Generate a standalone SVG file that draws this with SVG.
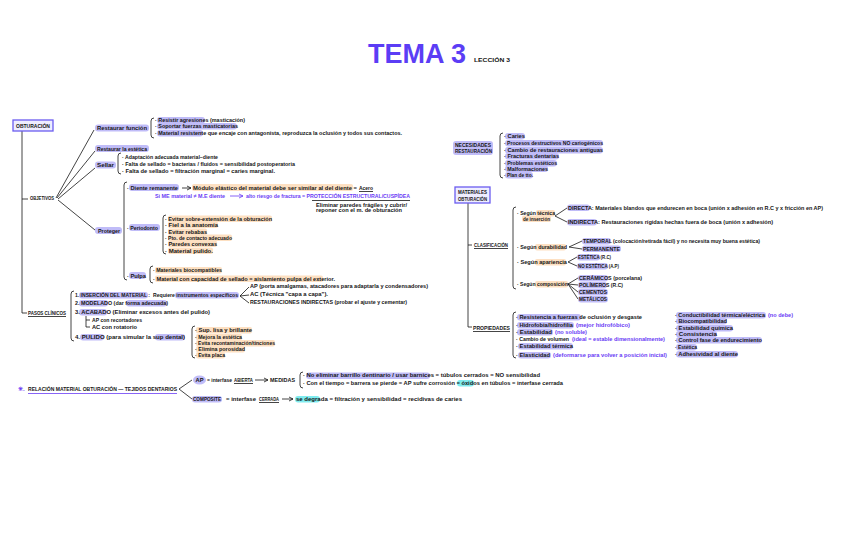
<svg xmlns="http://www.w3.org/2000/svg" width="848" height="549" viewBox="0 0 848 549">
<style>
text{font-family:"Liberation Sans",Arial,sans-serif;font-size:5.8px;font-weight:bold;fill:#151515}
.p{fill:#6a3cf5}
.hp{fill:#c0bcf8}
.ho{fill:#fde0c2}
.hc{fill:#80ecef}
.ln{stroke:#151515;stroke-width:0.8;fill:none}
.lp{stroke:#6a3cf5;stroke-width:0.8;fill:none}
.box{fill:#eeedff;stroke:#6b5cf0;stroke-width:1.3}
</style>
<rect width="848" height="549" fill="#fff"/>
<text x="368" y="63" style="font-size:27px;font-weight:bold;fill:#5b3df5">TEMA 3</text>
<text x="474" y="62" textLength="36" lengthAdjust="spacingAndGlyphs" style="font-size:5.5px">LECCIÓN 3</text>

<g id="connectors">
<path class="ln" d="M22 131V313H27M22 199H28"/>
<path class="ln" d="M56 198L94 130M57 198L95 151M58 199L95 168M58 200L95 230"/>
<path class="ln" d="M182 188H191M187 186L191 188L187 190"/>
<path class="lp" d="M230 196H243M239 194L243 196L239 198"/>
<path class="ln" d="M312 200.5H410"/>
<path class="ln" d="M240 296L249 287M240 296L249 295M240 296L249 303"/>
<path class="ln" d="M86 316V327H90M86 320H90"/>
<path class="ln" d="M468 203V327H472M468 245H472"/>
<path class="ln" d="M555 216L567 208M555 216L567 222"/>
<path class="ln" d="M569 247L582 241M569 247L582 249"/>
<path class="ln" d="M568 262L577 257M568 262L577 266"/>
<path class="ln" d="M568 284L578 278M568 284L578 285M568 284L578 292M568 284L578 299"/>
<path class="ln" d="M179 389L192 380M179 389L192 399"/>
<path class="ln" d="M255 380H268M264 378L268 380L264 382"/>
<path class="ln" d="M282 399H293M289 397L293 399L289 401"/>
</g>

<g id="obturacion">
<rect class="box" x="13" y="120" width="40" height="11"/>
<text x="16" y="127.5" textLength="34" lengthAdjust="spacingAndGlyphs" style="font-size:5px">OBTURACIÓN</text>
</g>
<g id="objetivos"><text x="30" y="200" textLength="24" lengthAdjust="spacingAndGlyphs">OBJETIVOS</text></g>

<g id="restaurar-funcion">
<rect class="hp" x="95" y="124.5" width="54" height="7" rx="3"/>
<text x="97" y="130" textLength="50" lengthAdjust="spacingAndGlyphs">Restaurar función</text>
<path class="ln" d="M154 118Q151 118 151 121V135Q151 138 154 138"/>
<rect class="hp" x="157" y="117" width="48" height="6.5" rx="3"/>
<rect class="hp" x="157" y="123" width="80" height="6.5" rx="3"/>
<rect class="hp" x="157" y="130" width="46" height="6.5" rx="3"/>
<text x="155" y="122" textLength="90" lengthAdjust="spacingAndGlyphs">· Resistir agresiones (masticación)</text>
<text x="155" y="128" textLength="83" lengthAdjust="spacingAndGlyphs">· Soportar fuerzas masticatorias</text>
<text x="155" y="135" textLength="247" lengthAdjust="spacingAndGlyphs">· Material resistente que encaje con antagonista, reproduzca la oclusión y todos sus contactos.</text>
</g>

<g id="restaurar-estetica">
<rect class="hp" x="95" y="145" width="54" height="7" rx="3"/>
<text x="97" y="151" textLength="50" lengthAdjust="spacingAndGlyphs">Restaurar la estética</text>
</g>

<g id="sellar">
<rect class="hp" x="95" y="161.5" width="21" height="7" rx="3"/>
<text x="97" y="167" textLength="17" lengthAdjust="spacingAndGlyphs">Sellar</text>
<path class="ln" d="M121 153Q118 153 118 156V171Q118 174 121 174"/>
<text x="122" y="159" textLength="96" lengthAdjust="spacingAndGlyphs">· Adaptación adecuada material–diente</text>
<text x="122" y="165.5" textLength="173" lengthAdjust="spacingAndGlyphs">· Falta de sellado = bacterias / fluidos = sensibilidad postoperatoria</text>
<text x="122" y="173" textLength="153" lengthAdjust="spacingAndGlyphs">· Falta de sellado = filtración marginal = caries marginal.</text>
</g>

<g id="proteger">
<rect class="hp" x="95" y="227" width="27" height="7" rx="3"/>
<text x="98" y="232.5" textLength="22" lengthAdjust="spacingAndGlyphs">Proteger</text>
<path class="ln" d="M127 182Q124 182 124 185V277Q124 280 127 280"/>
<rect class="hp" x="129" y="184" width="50" height="7" rx="3"/>
<text x="127" y="190" textLength="51" lengthAdjust="spacingAndGlyphs">· Diente remanente</text>
<rect class="ho" x="192" y="184" width="161" height="7" rx="2"/>
<text x="193" y="190" textLength="164" lengthAdjust="spacingAndGlyphs">Módulo elástico del material debe ser similar al del diente =</text>
<text x="359" y="190" textLength="14" lengthAdjust="spacingAndGlyphs">Acero</text>
<path class="ln" d="M359 191.5H373"/>
<text x="155" y="198" class="p" textLength="70" lengthAdjust="spacingAndGlyphs">Si ME material ≠ M.E diente</text>
<text x="246" y="198" class="p" textLength="164" lengthAdjust="spacingAndGlyphs">alto riesgo de fractura = PROTECCIÓN ESTRUCTURAL/CUSPÍDEA</text>
<text x="316" y="206.5" textLength="91" lengthAdjust="spacingAndGlyphs">Eliminar paredes frágiles y cubrir/</text>
<text x="316" y="212" textLength="86" lengthAdjust="spacingAndGlyphs">reponer con el m. de obturación</text>

<rect class="hp" x="129" y="224" width="31" height="7" rx="3"/>
<text x="127" y="230" textLength="31" lengthAdjust="spacingAndGlyphs">· Periodonto</text>
<path class="ln" d="M166 215Q163 215 163 218V251Q163 254 166 254"/>
<rect class="ho" x="168" y="215.5" width="104" height="6.5" rx="2"/>
<rect class="ho" x="168" y="221.5" width="50" height="6.5" rx="2"/>
<rect class="ho" x="168" y="228.5" width="39" height="6.5" rx="2"/>
<rect class="ho" x="168" y="234.5" width="64" height="6.5" rx="2"/>
<rect class="ho" x="168" y="240.5" width="49" height="6.5" rx="2"/>
<rect class="ho" x="168" y="247.5" width="45" height="6.5" rx="2"/>
<text x="165" y="221" textLength="107" lengthAdjust="spacingAndGlyphs">· Evitar sobre-extensión de la obturación</text>
<text x="165" y="227" textLength="53" lengthAdjust="spacingAndGlyphs">· Fiel a la anatomía</text>
<text x="165" y="234" textLength="42" lengthAdjust="spacingAndGlyphs">· Evitar rebabas</text>
<text x="165" y="240" textLength="67" lengthAdjust="spacingAndGlyphs">· Pto. de contacto adecuado</text>
<text x="165" y="246" textLength="52" lengthAdjust="spacingAndGlyphs">· Paredes convexas</text>
<text x="165" y="253" textLength="48" lengthAdjust="spacingAndGlyphs">· Material pulido.</text>

<rect class="hp" x="129" y="272" width="17" height="7" rx="3"/>
<text x="127" y="278" textLength="19" lengthAdjust="spacingAndGlyphs">· Pulpa</text>
<path class="ln" d="M153 266Q150 266 150 269V280Q150 283 153 283"/>
<rect class="ho" x="155" y="267" width="67" height="6.5" rx="2"/>
<rect class="ho" x="155" y="275.5" width="168" height="6.5" rx="2"/>
<text x="153" y="272" textLength="69" lengthAdjust="spacingAndGlyphs">· Materiales biocompatibles</text>
<text x="153" y="280.5" textLength="182" lengthAdjust="spacingAndGlyphs">· Material con capacidad de sellado = aislamiento pulpa del exterior.</text>
</g>

<g id="pasos-clinicos">
<text x="28" y="315" textLength="38" lengthAdjust="spacingAndGlyphs">PASOS CLÍNICOS</text>
<path class="ln" d="M28 316.5H66"/>
<path class="ln" d="M74 291Q71 291 71 294V338Q71 341 74 341"/>
<rect class="hp" x="79" y="292" width="69" height="6.5" rx="3"/>
<rect class="hp" x="175" y="292" width="64" height="6.5" rx="3"/>
<text x="75" y="297" textLength="75" lengthAdjust="spacingAndGlyphs" style="font-size:4.5px">1. INSERCIÓN DEL MATERIAL :</text>
<text x="153" y="297" textLength="85" lengthAdjust="spacingAndGlyphs" style="font-size:5.2px">Requiere instrumentos específicos</text>
<text x="250" y="288" textLength="178" lengthAdjust="spacingAndGlyphs">AP (porta amalgamas, atacadores para adaptarla y condensadores)</text>
<text x="250" y="296" textLength="78" lengthAdjust="spacingAndGlyphs">AC (Técnica "capa a capa").</text>
<text x="250" y="304" textLength="157" lengthAdjust="spacingAndGlyphs">RESTAURACIONES INDIRECTAS (probar el ajuste y cementar)</text>
<rect class="hp" x="79" y="300" width="29" height="6.5" rx="3"/>
<rect class="hp" x="126" y="300" width="41" height="6.5" rx="3"/>
<text x="75" y="305" textLength="93" lengthAdjust="spacingAndGlyphs">2. MODELADO (dar forma adecuada)</text>
<rect class="hp" x="79" y="309" width="28" height="6.5" rx="3"/>
<text x="75" y="314" textLength="135" lengthAdjust="spacingAndGlyphs">3. ACABADO (Eliminar excesos antes del pulido)</text>
<text x="92" y="322" textLength="50" lengthAdjust="spacingAndGlyphs">AP con recortadores</text>
<text x="92" y="329" textLength="45" lengthAdjust="spacingAndGlyphs">AC con rotatorio</text>
<rect class="hp" x="80" y="334" width="24" height="6.5" rx="3"/>
<rect class="hp" x="155" y="334" width="30" height="6.5" rx="3"/>
<text x="75" y="339" textLength="110" lengthAdjust="spacingAndGlyphs">4. PULIDO (para simular la sup dental)</text>
<path class="ln" d="M195 326Q192 326 192 329V355Q192 358 195 358"/>
<rect class="ho" x="196" y="327" width="56" height="6.5" rx="2"/>
<rect class="ho" x="196" y="334" width="46" height="6.5" rx="2"/>
<rect class="ho" x="196" y="340" width="79" height="6.5" rx="2"/>
<rect class="ho" x="196" y="346" width="49" height="6.5" rx="2"/>
<rect class="ho" x="196" y="352" width="29" height="6.5" rx="2"/>
<text x="195" y="332" textLength="57" lengthAdjust="spacingAndGlyphs">· Sup. lisa y brillante</text>
<text x="195" y="339" textLength="47" lengthAdjust="spacingAndGlyphs">· Mejora la estética</text>
<text x="195" y="345" textLength="80" lengthAdjust="spacingAndGlyphs">· Evita recontaminación/tinciones</text>
<text x="195" y="351" textLength="50" lengthAdjust="spacingAndGlyphs">· Elimina porosidad</text>
<text x="195" y="357" textLength="30" lengthAdjust="spacingAndGlyphs">· Evita placa</text>
</g>

<g id="necesidades">
<rect class="hp" x="453" y="141" width="40" height="14" rx="3"/>
<text x="455" y="147" textLength="36" lengthAdjust="spacingAndGlyphs">NECESIDADES</text>
<text x="455" y="153" textLength="37" lengthAdjust="spacingAndGlyphs">RESTAURACIÓN</text>
<path class="ln" d="M503 133Q500 133 500 136V175Q500 178 503 178"/>
<rect class="hp" x="505" y="133" width="20" height="6.5" rx="3"/>
<rect class="hp" x="505" y="140" width="98" height="6.5" rx="3"/>
<rect class="hp" x="505" y="147" width="98" height="6.5" rx="3"/>
<rect class="hp" x="505" y="153" width="54" height="6.5" rx="3"/>
<rect class="hp" x="505" y="160" width="52" height="6.5" rx="3"/>
<rect class="hp" x="505" y="165.5" width="43" height="6.5" rx="3"/>
<rect class="hp" x="505" y="172" width="28" height="6.5" rx="3"/>
<text x="504" y="138" textLength="21" lengthAdjust="spacingAndGlyphs">· Caries</text>
<text x="504" y="145" textLength="99" lengthAdjust="spacingAndGlyphs">· Procesos destructivos NO cariogénicos</text>
<text x="504" y="152" textLength="99" lengthAdjust="spacingAndGlyphs">· Cambio de restauraciones antiguas</text>
<text x="504" y="158" textLength="55" lengthAdjust="spacingAndGlyphs">· Fracturas dentarias</text>
<text x="504" y="165" textLength="53" lengthAdjust="spacingAndGlyphs">· Problemas estéticos</text>
<text x="504" y="170.5" textLength="44" lengthAdjust="spacingAndGlyphs">· Malformaciones</text>
<text x="504" y="177" textLength="29" lengthAdjust="spacingAndGlyphs">· Plan de tto.</text>
</g>

<g id="materiales">
<rect class="box" x="455" y="187" width="35" height="16"/>
<text x="458" y="194" textLength="29" lengthAdjust="spacingAndGlyphs" style="font-size:5px">MATERIALES</text>
<text x="458" y="200.5" textLength="29" lengthAdjust="spacingAndGlyphs" style="font-size:5px">OBTURACIÓN</text>
</g>

<g id="clasificacion">
<text x="474" y="247" textLength="34" lengthAdjust="spacingAndGlyphs">CLASIFICACIÓN</text>
<path class="ln" d="M474 248.5H508"/>
<path class="ln" d="M516 207Q513 207 513 210V286Q513 289 516 289"/>
<rect class="ho" x="536" y="210" width="19" height="6.5" rx="2"/>
<rect class="ho" x="522" y="215.5" width="29" height="6.5" rx="2"/>
<text x="517" y="215" textLength="38" lengthAdjust="spacingAndGlyphs">· Según técnica</text>
<text x="523" y="220.5" textLength="27" lengthAdjust="spacingAndGlyphs">de inserción</text>
<rect class="hp" x="567" y="204.5" width="23" height="6.5" rx="3"/>
<text x="568" y="209.5" textLength="255" lengthAdjust="spacingAndGlyphs">DIRECTA: Materiales blandos que endurecen en boca (unión x adhesión en R.C y x fricción en AP)</text>
<rect class="hp" x="567" y="219" width="30" height="6.5" rx="3"/>
<text x="568" y="224" textLength="205" lengthAdjust="spacingAndGlyphs">INDIRECTA: Restauraciones rígidas hechas fuera de boca (unión x adhesión)</text>
<rect class="ho" x="535" y="244" width="31" height="6.5" rx="2"/>
<text x="517" y="249" textLength="50" lengthAdjust="spacingAndGlyphs">· Según durabilidad</text>
<rect class="hp" x="582" y="238" width="29" height="6.5" rx="3"/>
<text x="583" y="243" textLength="177" lengthAdjust="spacingAndGlyphs">TEMPORAL (colocación/retirada fácil) y no necesita muy buena estética)</text>
<rect class="hp" x="582" y="245.5" width="39" height="6.5" rx="3"/>
<text x="583" y="250.5" textLength="37" lengthAdjust="spacingAndGlyphs">PERMANENTE</text>
<rect class="ho" x="535" y="259" width="31" height="6.5" rx="2"/>
<text x="517" y="264" textLength="50" lengthAdjust="spacingAndGlyphs">· Según apariencia</text>
<rect class="hp" x="577" y="254" width="23" height="6.5" rx="3"/>
<text x="578" y="259" textLength="33" lengthAdjust="spacingAndGlyphs">ESTÉTICA (R.C)</text>
<rect class="hp" x="577" y="263" width="31" height="6.5" rx="3"/>
<text x="578" y="268" textLength="41" lengthAdjust="spacingAndGlyphs">NO ESTÉTICA (A.P)</text>
<rect class="ho" x="535" y="281" width="33" height="6.5" rx="2"/>
<text x="517" y="286" textLength="51" lengthAdjust="spacingAndGlyphs">· Según composición</text>
<rect class="hp" x="578" y="275" width="30" height="6.5" rx="3"/>
<text x="579" y="280" textLength="63" lengthAdjust="spacingAndGlyphs">CERÁMICOS (porcelana)</text>
<rect class="hp" x="578" y="282" width="29" height="6.5" rx="3"/>
<text x="579" y="287" textLength="44" lengthAdjust="spacingAndGlyphs">POLÍMEROS (R.C)</text>
<rect class="hp" x="578" y="289" width="30" height="6.5" rx="3"/>
<text x="579" y="294" textLength="28" lengthAdjust="spacingAndGlyphs">CEMENTOS</text>
<rect class="hp" x="578" y="296" width="30" height="6.5" rx="3"/>
<text x="579" y="301" textLength="28" lengthAdjust="spacingAndGlyphs">METÁLICOS</text>
</g>

<g id="propiedades">
<text x="473" y="330" textLength="37" lengthAdjust="spacingAndGlyphs">PROPIEDADES</text>
<path class="ln" d="M473 331.5H510"/>
<path class="ln" d="M516 312Q513 312 513 315V355Q513 358 516 358"/>
<rect class="hp" x="517" y="314" width="64" height="6.5" rx="3"/>
<rect class="hp" x="517" y="322" width="57" height="6.5" rx="3"/>
<rect class="hp" x="517" y="329" width="36" height="6.5" rx="3"/>
<rect class="hp" x="518" y="343" width="55" height="6.5" rx="3"/>
<rect class="hp" x="518" y="352" width="33" height="6.5" rx="3"/>
<text x="516" y="319" textLength="126" lengthAdjust="spacingAndGlyphs">· Resistencia a fuerzas de oclusión y desgaste</text>
<text x="516" y="327" textLength="57" lengthAdjust="spacingAndGlyphs">· Hidrofobia/hidrofilia</text>
<text x="576" y="327" class="p" textLength="54" lengthAdjust="spacingAndGlyphs">(mejor hidrofóbico)</text>
<text x="516" y="334" textLength="36" lengthAdjust="spacingAndGlyphs">· Estabilidad</text>
<text x="555" y="334" class="p" textLength="32" lengthAdjust="spacingAndGlyphs">(no soluble)</text>
<text x="516" y="340.5" textLength="53" lengthAdjust="spacingAndGlyphs">· Cambio de volumen</text>
<text x="572" y="340.5" class="p" textLength="93" lengthAdjust="spacingAndGlyphs">(ideal = estable dimensionalmente)</text>
<text x="516" y="348" textLength="57" lengthAdjust="spacingAndGlyphs">· Estabilidad térmica</text>
<text x="516" y="357" textLength="34" lengthAdjust="spacingAndGlyphs">· Elasticidad</text>
<text x="553" y="357" class="p" textLength="114" lengthAdjust="spacingAndGlyphs">(deformarse para volver a posición inicial)</text>
<rect class="hp" x="676" y="312" width="90" height="6.5" rx="3"/>
<rect class="hp" x="676" y="318" width="51" height="6.5" rx="3"/>
<rect class="hp" x="676" y="325" width="57" height="6.5" rx="3"/>
<rect class="hp" x="676" y="331" width="41" height="6.5" rx="3"/>
<rect class="hp" x="676" y="337" width="86" height="6.5" rx="3"/>
<rect class="hp" x="676" y="344" width="21" height="6.5" rx="3"/>
<rect class="hp" x="676" y="351" width="62" height="6.5" rx="3"/>
<text x="675" y="317" textLength="90" lengthAdjust="spacingAndGlyphs">· Conductibilidad térmica/eléctrica</text>
<text x="768" y="317" class="p" textLength="25" lengthAdjust="spacingAndGlyphs">(no debe)</text>
<text x="675" y="323" textLength="52" lengthAdjust="spacingAndGlyphs">· Biocompatibilidad</text>
<text x="675" y="330" textLength="58" lengthAdjust="spacingAndGlyphs">· Estabilidad química</text>
<text x="675" y="336" textLength="42" lengthAdjust="spacingAndGlyphs">· Consistencia</text>
<text x="675" y="342" textLength="87" lengthAdjust="spacingAndGlyphs">· Control fase de endurecimiento</text>
<text x="675" y="349" textLength="22" lengthAdjust="spacingAndGlyphs">· Estética</text>
<text x="675" y="356" textLength="63" lengthAdjust="spacingAndGlyphs">· Adhesividad al diente</text>
</g>

<g id="relacion">
<text x="18" y="391" class="p">✳.</text>
<text x="28" y="391" textLength="149" lengthAdjust="spacingAndGlyphs">RELACIÓN MATERIAL OBTURACIÓN — TEJIDOS DENTARIOS</text>
<path class="lp" d="M28 393.5H177"/>
</g>

<g id="ap">
<ellipse class="hp" cx="199.5" cy="380" rx="6.5" ry="4.5"/>
<text x="195.5" y="382" textLength="8" lengthAdjust="spacingAndGlyphs">AP</text>
<text x="207" y="382" textLength="25" lengthAdjust="spacingAndGlyphs">= interfase</text>
<text x="234" y="382" textLength="19" lengthAdjust="spacingAndGlyphs">ABIERTA</text>
<path class="ln" d="M234 383.5H253"/>
<text x="270" y="382" textLength="25" lengthAdjust="spacingAndGlyphs">MEDIDAS</text>
<path class="ln" d="M303 372Q300 372 300 375V385Q300 388 303 388"/>
<rect class="hp" x="306" y="372.5" width="124" height="6.5" rx="3"/>
<rect class="hc" x="457" y="380" width="17" height="6.5" rx="3"/>
<text x="303" y="377" textLength="237" lengthAdjust="spacingAndGlyphs">· No eliminar barrillo dentinario / usar barnices = túbulos cerrados = NO sensibilidad</text>
<text x="303" y="385" textLength="260" lengthAdjust="spacingAndGlyphs">· Con el tiempo = barrera se pierde = AP sufre corrosión = óxidos en túbulos = interfase cerrada</text>
</g>

<g id="composite">
<rect class="hp" x="192" y="396" width="30" height="6.5" rx="3"/>
<text x="193" y="401" textLength="28" lengthAdjust="spacingAndGlyphs">COMPOSITE</text>
<text x="226" y="401" textLength="30" lengthAdjust="spacingAndGlyphs">= interfase</text>
<text x="259" y="401" textLength="20" lengthAdjust="spacingAndGlyphs">CERRADA</text>
<path class="ln" d="M259 402.5H279"/>
<rect class="hc" x="295" y="396" width="25" height="6.5" rx="3"/>
<text x="296" y="401" textLength="166" lengthAdjust="spacingAndGlyphs">se degrada = filtración y sensibilidad = recidivas de caries</text>
</g>
</svg>
